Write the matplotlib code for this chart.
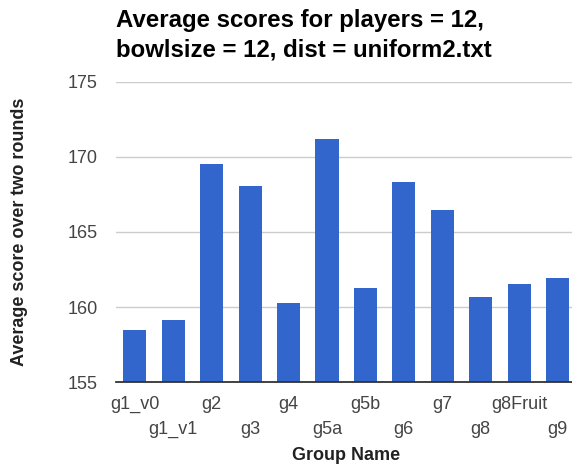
import matplotlib
matplotlib.use("Agg")
import matplotlib.pyplot as plt

# Average score per group over two rounds
groups = ["g1_v0", "g1_v1", "g2", "g3", "g4", "g5a", "g5b", "g6", "g7", "g8", "g8Fruit", "g9"]
scores = [158.5, 159.15, 169.5, 168.05, 160.3, 171.2, 161.25, 168.35, 166.45, 160.65, 161.55, 161.95]
y_ticks = [155, 160, 165, 170, 175]

W, H = 572, 466
fig = plt.figure(figsize=(W / 100, H / 100), dpi=100)
plt.rcParams["font.family"] = ["Liberation Sans", "DejaVu Sans"]

# axes box in pixel coordinates (left, top, right, bottom)
left, top, right, bottom = 115.5, 81.7, 576.9, 382.3
ax = fig.add_axes([left / W, 1 - bottom / H, (right - left) / W, (bottom - top) / H])

x = list(range(len(groups)))
ax.bar(x, scores, width=0.6, color="#3366cc", zorder=3)
ax.set_xlim(-0.5, len(groups) - 0.5)
ax.set_ylim(y_ticks[0], y_ticks[-1])

ax.set_yticks(y_ticks)
ax.set_yticklabels([str(t) for t in y_ticks])
ax.grid(axis="y", color="#cccccc", linewidth=1, zorder=0)
ax.axhline(y_ticks[0], color="#333333", linewidth=1.3, zorder=4, clip_on=False)

for s in ax.spines.values():
    s.set_visible(False)

# staggered category labels: even ones on the first row, odd ones below
even = x[0::2]
odd = x[1::2]
ax.set_xticks(even)
ax.set_xticklabels([groups[i] for i in even])
ax.set_xticks(odd, minor=True)
ax.set_xticklabels([groups[i] for i in odd], minor=True)
ax.tick_params(axis="x", which="major", length=0, pad=10, labelsize=13, labelcolor="#444444")
ax.tick_params(axis="x", which="minor", length=0, pad=28, labelsize=13, labelcolor="#444444")
ax.tick_params(axis="y", length=0, pad=13, labelsize=13, labelcolor="#444444")

fig.text(116 / W, 1 - 9 / H, "Average scores for players = 12,\nbowlsize = 12, dist = uniform2.txt",
         ha="left", va="top", fontsize=17.3, fontweight="bold", color="#000000", linespacing=1.35)
fig.text(20 / W, 1 - (top + bottom) / 2 / H, "Average score over two rounds",
         rotation=90, ha="center", va="center", fontsize=13, fontweight="bold", color="#222222")
fig.text((left + right) / 2 / W, 1 - 456 / H, "Group Name",
         ha="center", va="center", fontsize=13, fontweight="bold", color="#222222")

fig.savefig("out.png", dpi=100)
